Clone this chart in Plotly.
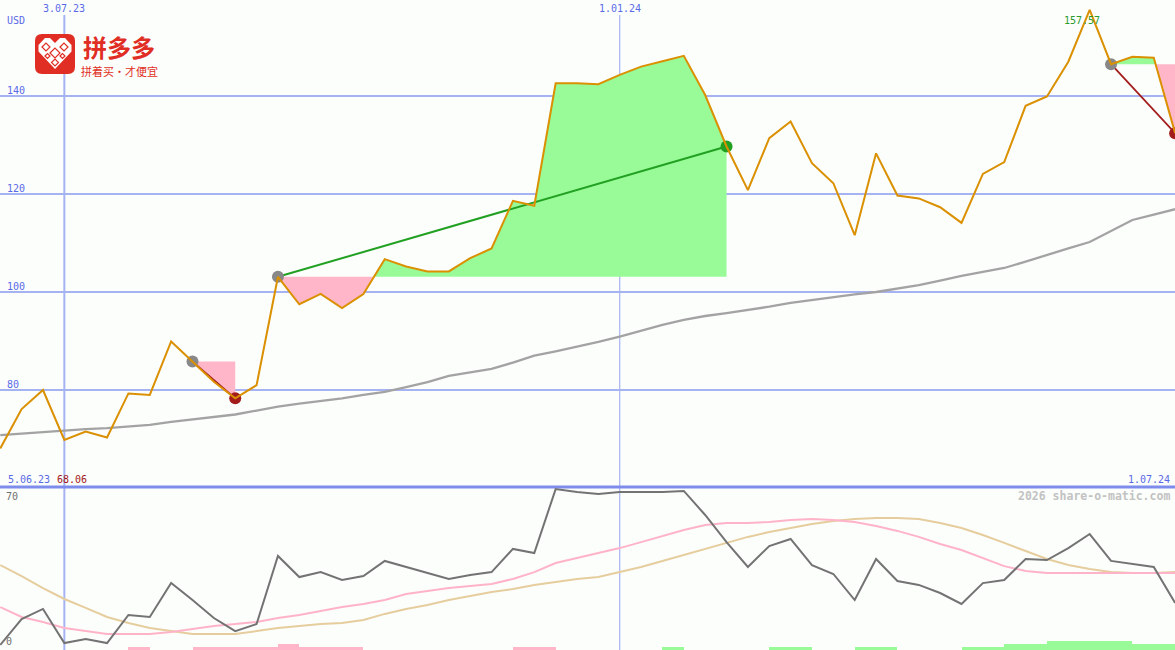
import plotly.graph_objects as go
import pandas as pd

W, H = 1175, 650

# ---------------- data ----------------
dates = pd.date_range("2023-06-12", periods=56, freq="7D")

price = [68.06, 76.1, 80.0, 69.8, 71.5, 70.3, 79.3, 79.0, 89.9, 85.8,
         81.7, 78.3, 81.0, 103.1, 97.5, 99.6, 96.7, 99.6, 106.7, 105.2,
         104.2, 104.2, 106.9, 108.9, 118.6, 117.6, 142.6, 142.6, 142.4, 144.3,
         146.0, 147.1, 148.2, 140.2, 129.7, 120.8, 131.4, 134.8, 126.3, 122.2,
         111.6, 128.3, 119.7, 119.1, 117.3, 114.1, 124.1, 126.5, 138.0, 139.9,
         147.0, 157.57, 146.5, 148.0, 147.8, 132.4]

ma_main = [70.8, 71.1, 71.4, 71.8, 72.0, 72.2, 72.5, 72.9, 73.5, 74.0,
           74.5, 75.0, 75.8, 76.6, 77.2, 77.7, 78.3, 79.0, 79.6, 80.6,
           81.6, 82.9, 83.6, 84.3, 85.6, 87.0, 87.9, 88.8, 89.8, 90.9,
           92.1, 93.3, 94.3, 95.1, 95.7, 96.3, 97.0, 97.8, 98.4, 99.0,
           99.5, 100.0, 100.7, 101.4, 102.3, 103.3, 104.1, 104.9, 106.2, 107.6,
           108.9, 110.2, 112.4, 114.7, 115.8, 116.9]

osc = [0.5, 13.0, 17.9, 1.4, 3.4, 1.4, 15.0, 14.0, 30.4, 22.2,
       13.5, 7.2, 10.6, 43.5, 33.3, 35.7, 31.9, 33.8, 41.1, 38.2,
       35.3, 32.4, 34.3, 35.7, 46.9, 44.9, 75.8, 74.4, 73.4, 74.4,
       74.4, 74.4, 74.9, 63.3, 50.2, 38.2, 48.3, 51.7, 39.1, 34.8,
       22.2, 42.0, 31.4, 29.5, 25.6, 20.3, 30.4, 31.9, 42.0, 41.5,
       47.3, 54.1, 41.1, 39.6, 38.2, 20.8]

osc_pink = [18.8, 14.0, 11.6, 8.7, 7.2, 5.8, 5.8, 5.8, 6.8, 8.2,
            9.7, 10.6, 11.6, 13.5, 15.0, 16.9, 18.8, 20.3, 22.2, 25.1,
            26.6, 28.0, 29.0, 30.0, 32.4, 35.7, 40.1, 42.5, 44.9, 47.3,
            50.2, 53.1, 56.0, 58.5, 59.4, 59.4, 59.9, 60.9, 61.4, 60.9,
            59.9, 58.0, 55.6, 52.7, 49.3, 46.4, 42.5, 38.6, 36.2, 35.3,
            35.3, 35.3, 35.3, 35.3, 35.3, 35.3]

osc_tan = [39.1, 33.8, 28.0, 22.7, 18.4, 14.0, 11.1, 8.7, 7.2, 5.8,
           5.8, 5.8, 7.2, 8.7, 9.7, 10.6, 11.1, 12.6, 15.5, 17.9,
           19.8, 22.2, 24.2, 26.1, 27.5, 29.5, 30.9, 32.4, 33.3, 35.7,
           38.2, 41.1, 44.0, 46.9, 49.8, 52.7, 55.1, 57.0, 58.9, 60.4,
           61.4, 61.8, 61.8, 61.4, 59.4, 57.0, 53.6, 49.8, 45.9, 42.0,
           39.1, 37.2, 35.7, 35.3, 35.3, 35.7]

# one value per week interval (between point i and i+1); <0 pink, >0 green
signal_bars = [0, 0, 0, 0, 0, 0, -1, 0, 0, -1,
               -1, -1, -1, -2, -1, -1, -1, 0, 0, 0,
               0, 0, 0, 0, -1, -1, 0, 0, 0, 0,
               0, 1, 0, 0, 0, 0, 1, 1, 0, 0,
               1, 1, 0, 0, 0, 1, 1, 2, 2, 3,
               3, 3, 3, 2, 2]

trades = [(9, 11), (13, 34), (52, 55)]   # (entry index, exit index)

y_labels = [80, 100, 120, 140]
x_label_dates = ["2023-07-03", "2024-01-01"]
x_label_texts = ["3.07.23", "1.01.24"]
max_label = "157.57"
min_label = "68.06"

# ---------------- styles ----------------
BG = "#fcfefc"
GRID = "#a6b3f2"
BLUE_TXT = "#5a6ae6"
PRICE_C = "#da9000"
MA_C = "#a3a3a3"
FILL_G = "#98fb98"
FILL_P = "#ffb6c8"
RED = "#a31c1c"
GREEN = "#22a022"
MONO = "DejaVu Sans Mono"

SEP = 487  # px of separator

def fx(x):
    return x / W

def fy(y):
    return 1 - y / H

x_start = pd.Timestamp("2023-06-11 22:00")
x_end = pd.Timestamp("2024-06-30 23:00")

fig = go.Figure()

# ---- trade fills ----
def ts(i):
    return dates[i].value

for a, b in trades:
    level = price[a]
    pts = []
    for i in range(a, b + 1):
        if i > a:
            p0, p1 = price[i - 1], price[i]
            if (p0 - level) * (p1 - level) < 0:
                t = (level - p0) / (p1 - p0)
                tx = ts(i - 1) + t * (ts(i) - ts(i - 1))
                pts.append((pd.Timestamp(int(tx)), level))
        pts.append((dates[i], price[i]))
    for kind, col in (("up", FILL_G), ("dn", FILL_P)):
        if kind == "up":
            ys = [max(p, level) for _, p in pts]
            has = any(p > level for _, p in pts)
        else:
            ys = [min(p, level) for _, p in pts]
            has = any(p < level for _, p in pts)
        if not has:
            continue
        xs = [d for d, _ in pts]
        px_ = xs + [xs[-1], xs[0], xs[0]]
        py_ = ys + [level, level, ys[0]]
        fig.add_trace(go.Scatter(x=px_, y=py_, mode="lines", fill="toself",
                                 fillcolor=col, line=dict(width=0, color=col),
                                 hoverinfo="skip", showlegend=False))

# ---- moving average main ----
fig.add_trace(go.Scatter(x=dates, y=ma_main, mode="lines",
                         line=dict(color=MA_C, width=2.3), showlegend=False))

# ---- trade lines and markers ----
for a, b in trades:
    win = price[b] > price[a]
    col = GREEN if win else RED
    fig.add_trace(go.Scatter(x=[dates[a], dates[b]], y=[price[a], price[b]],
                             mode="lines", line=dict(color=col, width=2 if win else 1.8),
                             showlegend=False))
    fig.add_trace(go.Scatter(x=[dates[a]], y=[price[a]], mode="markers",
                             marker=dict(color="#888888", size=12), showlegend=False))
    fig.add_trace(go.Scatter(x=[dates[b]], y=[price[b]], mode="markers",
                             marker=dict(color=col, size=12), showlegend=False))

# ---- price line ----
fig.add_trace(go.Scatter(x=dates, y=price, mode="lines",
                         line=dict(color=PRICE_C, width=2), showlegend=False))

# ---- lower panel ----
fig.add_trace(go.Scatter(x=dates, y=osc_tan, mode="lines", xaxis="x2", yaxis="y2",
                         line=dict(color="#e6cd9e", width=2), showlegend=False))
fig.add_trace(go.Scatter(x=dates, y=osc_pink, mode="lines", xaxis="x2", yaxis="y2",
                         line=dict(color="#ffb3c9", width=2), showlegend=False))
fig.add_trace(go.Scatter(x=dates, y=osc, mode="lines", xaxis="x2", yaxis="y2",
                         line=dict(color="#737373", width=2), showlegend=False))

bx, by, bc = [], [], []
for i, v in enumerate(signal_bars):
    if v == 0:
        continue
    bx.append(dates[i] + pd.Timedelta(days=3.5))
    by.append(abs(v))
    bc.append(FILL_G if v > 0 else FILL_P)
fig.add_trace(go.Bar(x=bx, y=by, xaxis="x2", yaxis="y3", width=7 * 24 * 3600 * 1000,
                     marker=dict(color=bc, line=dict(width=0)), showlegend=False))

# ---------------- layout ----------------
main_dom = [fy(SEP), 1]
low_dom = [0, fy(SEP)]
main_rng = [140 - (SEP - 96) / 4.9, 140 + 96 / 4.9]
low_rng = [(646 - 650) / 2.07, (646 - SEP) / 2.07]

fig.update_layout(
    width=W, height=H, autosize=False,
    margin=dict(l=0, r=0, t=0, b=0),
    paper_bgcolor=BG, plot_bgcolor=BG,
    showlegend=False, bargap=0,
    xaxis=dict(domain=[0, 1], range=[x_start, x_end], anchor="y", visible=False,
               showgrid=False, zeroline=False),
    yaxis=dict(domain=main_dom, range=main_rng, tickvals=y_labels, showgrid=True,
               gridcolor=GRID, gridwidth=2, showticklabels=False, zeroline=False,
               showline=False, ticks=""),
    xaxis2=dict(domain=[0, 1], range=[x_start, x_end], anchor="y2", matches="x",
                visible=False, showgrid=False, zeroline=False),
    yaxis2=dict(domain=low_dom, range=low_rng, anchor="x2", showgrid=False,
                showticklabels=False, zeroline=False, ticks=""),
    yaxis3=dict(domain=low_dom, range=[0, (H - SEP) / 3], overlaying="y2", anchor="x2",
                visible=False, showgrid=False, zeroline=False),
)

shapes = []
# vertical date lines
for d, w in zip(x_label_dates, [2, 1.2]):
    shapes.append(dict(type="line", xref="x", yref="paper", x0=d, x1=d,
                       y0=0, y1=fy(15), line=dict(color=GRID, width=w), layer="below"))
# separator
shapes.append(dict(type="line", xref="paper", yref="paper", x0=0, x1=1,
                   y0=fy(SEP), y1=fy(SEP), line=dict(color="#7e8cec", width=3), layer="below"))

# logo
def pp(x, y):
    return f"{fx(x):.5f},{fy(y):.5f}"

x0, y0, x1, y1, r = 35, 34, 75, 74, 7
sq = (f"M{pp(x0 + r, y0)} L{pp(x1 - r, y0)} Q{pp(x1, y0)} {pp(x1, y0 + r)} "
      f"L{pp(x1, y1 - r)} Q{pp(x1, y1)} {pp(x1 - r, y1)} L{pp(x0 + r, y1)} "
      f"Q{pp(x0, y1)} {pp(x0, y1 - r)} L{pp(x0, y0 + r)} Q{pp(x0, y0)} {pp(x0 + r, y0)} Z")
shapes.append(dict(type="path", xref="paper", yref="paper", path=sq,
                   fillcolor="#e02e24", line=dict(width=0), layer="above"))
heart = [(55, 69), (38.5, 51.5), (38.5, 45), (45, 38), (50, 38), (55, 43),
         (60, 38), (65, 38), (71.5, 45), (71.5, 51.5)]
hp = "M" + " L".join(pp(*p) for p in heart) + " Z"
shapes.append(dict(type="path", xref="paper", yref="paper", path=hp,
                   fillcolor="white", line=dict(width=0), layer="above"))
for cx, cy, rr in [(55, 53, 5), (46, 47, 4), (64, 47, 4), (55, 62.5, 3.5),
                   (47.5, 56, 2.5), (62.5, 56, 2.5)]:
    dp = f"M{pp(cx - rr, cy)} L{pp(cx, cy - rr)} L{pp(cx + rr, cy)} L{pp(cx, cy + rr)} Z"
    shapes.append(dict(type="path", xref="paper", yref="paper", path=dp,
                       fillcolor="rgba(0,0,0,0)", line=dict(color="#e02e24", width=1.2),
                       layer="above"))
fig.update_layout(shapes=shapes)

ann = []
def text(x, y, s, color, size=10, xanchor="left", yanchor="middle", family=MONO, bold=False):
    ann.append(dict(xref="paper", yref="paper", x=fx(x), y=fy(y), text=(f"<b>{s}</b>" if bold else s),
                    showarrow=False, xanchor=xanchor, yanchor=yanchor,
                    font=dict(family=family, size=size, color=color)))

for v in y_labels:
    ann.append(dict(xref="paper", yref="y", x=fx(5), y=v, text=str(v), showarrow=False,
                    xanchor="left", yanchor="bottom", yshift=-2,
                    font=dict(family=MONO, size=10, color=BLUE_TXT)))
for d, s in zip(x_label_dates, x_label_texts):
    ann.append(dict(xref="x", yref="paper", x=d, y=fy(8), text=s, showarrow=False,
                    xanchor="center", yanchor="middle",
                    font=dict(family=MONO, size=10, color=BLUE_TXT)))
text(5, 20, "USD", BLUE_TXT)
text(6, 479, "5.06.23", BLUE_TXT)
text(55, 479, min_label, "#a31818")
text(1172, 479, "1.07.24", BLUE_TXT, xanchor="right")
text(1172, 496, "2026 share-o-matic.com", "#c2c2c2", size=11.5, xanchor="right", bold=True)
text(4, 496, "70", "#707070")
text(4, 641, "0", "#707070")
ann.append(dict(xref="x", yref="paper", x=dates[51], y=fy(20), text=max_label, showarrow=False,
                xanchor="right", yanchor="middle", xshift=12,
                font=dict(family=MONO, size=10, color="#2a9a2a")))
text(119, 47, "<b>拼多多</b>", "#e02e24", size=24, xanchor="center", family="Noto Sans CJK SC")
text(119, 71.5, "拼着买·才便宜", "#e02e24", size=11, xanchor="center", family="Noto Sans CJK SC")

fig.update_layout(annotations=ann)

fig.write_html("out.html", config={"displayModeBar": False},
               post_script="document.body.style.margin='0';document.body.style.overflow='hidden';")
